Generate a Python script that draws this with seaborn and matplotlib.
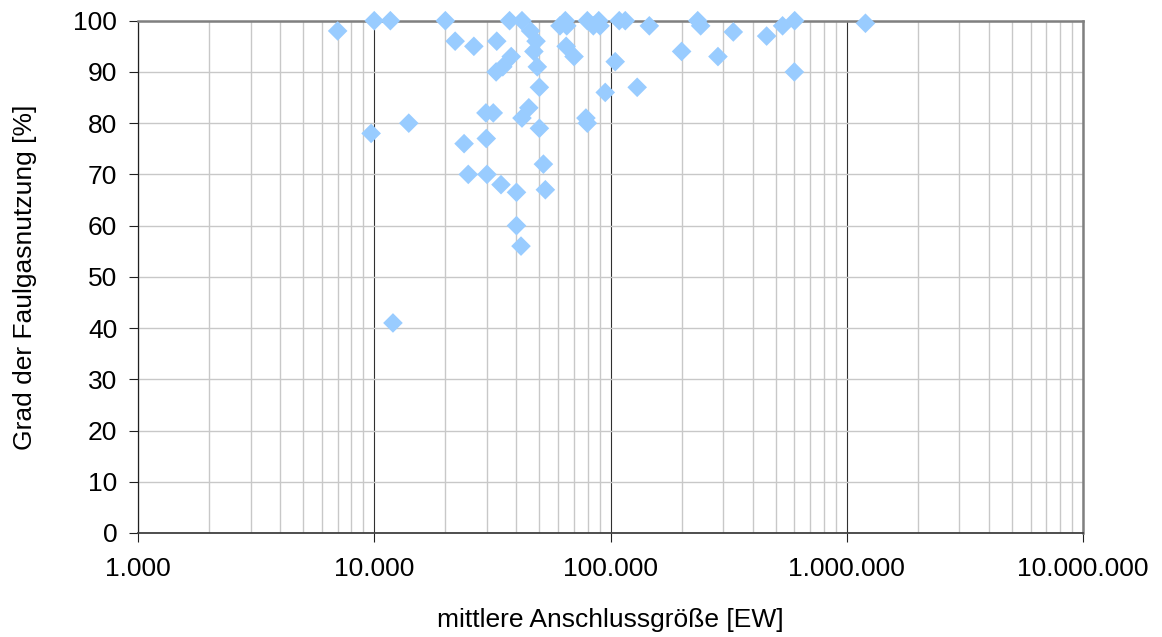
import matplotlib
matplotlib.use("Agg")
import matplotlib.pyplot as plt
from matplotlib.ticker import FixedLocator, FuncFormatter, LogLocator, NullFormatter
import pandas as pd
import seaborn as sns

# Mittlere Anschlussgröße der Kläranlagen [EW]
anschlussgroesse_ew = [
    7000, 10000, 11700, 20000, 22000, 26400, 33000, 37400, 32800, 35000,
    14000, 9700, 29700, 31900, 42200, 45900, 48400, 38000, 47400, 49000,
    50000, 45100, 42200, 50000, 61100, 64400, 65300, 64900, 70100, 79800,
    84600, 89200, 90300, 95000, 78700, 79800, 104700, 108900, 115500, 146000,
    129700, 200000, 234000, 240800, 285000, 331000, 458000, 535000, 602000, 600000,
    1200000, 24000, 29800, 25000, 30000, 34400, 40000, 40000, 41800, 12000,
    52000, 53000,
]

# Grad der Faulgasnutzung [%]
faulgasnutzung_pct = [
    98, 100, 100, 100, 96, 95, 96, 100, 90, 91,
    80, 78, 82, 82, 100, 98, 96, 93, 94, 91,
    87, 83, 81, 79, 99, 100, 99, 95, 93, 100,
    99, 100, 99, 86, 81, 80, 92, 100, 100, 99,
    87, 94, 100, 99, 93, 97.8, 97, 99, 100, 90,
    99.5, 76, 77, 70, 70, 68, 66.5, 60, 56, 41,
    72, 67,
]

x_ticks = [1e3, 1e4, 1e5, 1e6, 1e7]
y_ticks = list(range(0, 101, 10))

sns.set_style("white")
plt.rcParams["font.family"] = ["Liberation Sans", "DejaVu Sans"]

W, H = 1162, 637
fig = plt.figure(figsize=(W / 100, H / 100), dpi=100)
ax = fig.add_axes([138 / W, 1 - 533 / H, 945 / W, 512.3 / H])

df = pd.DataFrame({"ew": anschlussgroesse_ew, "pct": faulgasnutzung_pct})
sns.scatterplot(
    data=df, x="ew", y="pct", ax=ax, marker="D", s=100,
    color="#99CCFF", edgecolor="none", linewidth=0,
    zorder=3, clip_on=False, legend=False,
)

ax.set_xscale("log")
ax.set_xlim(1e3, 1e7)
ax.set_ylim(0, 100)

ax.xaxis.set_major_locator(FixedLocator(x_ticks))
ax.xaxis.set_minor_locator(LogLocator(base=10, subs=range(2, 10)))
ax.xaxis.set_major_formatter(FuncFormatter(lambda v, _: f"{int(round(v)):,}".replace(",", ".")))
ax.xaxis.set_minor_formatter(NullFormatter())
ax.yaxis.set_major_locator(FixedLocator(y_ticks))

ax.set_axisbelow(True)
ax.grid(which="minor", axis="x", color="#C8C8C8", linewidth=1.0)
ax.grid(which="major", axis="x", color="#303030", linewidth=0.8)
ax.grid(which="major", axis="y", color="#C8C8C8", linewidth=1.0)

for side in ("top", "right"):
    ax.spines[side].set_color("#808080")
    ax.spines[side].set_linewidth(1.8)
ax.spines["left"].set_color("#202020")
ax.spines["left"].set_linewidth(0.9)
ax.spines["bottom"].set_color("#404040")
ax.spines["bottom"].set_linewidth(1.3)

ax.tick_params(axis="x", which="major", bottom=True, length=6.5, width=0.8,
               color="#202020", pad=11, labelsize=19, labelcolor="black")
ax.tick_params(axis="x", which="minor", bottom=True, length=0)
ax.tick_params(axis="y", which="major", left=True, length=6.5, width=0.8,
               color="#202020", pad=8.5, labelsize=19, labelcolor="black")

ax.set_xlabel("mittlere Anschlussgröße [EW]", fontsize=19, color="black")
ax.set_ylabel("Grad der Faulgasnutzung [%]", fontsize=19, color="black")
ax.xaxis.label.set_va("center")
ax.yaxis.label.set_va("center")
ax.xaxis.set_label_coords(0.5, (533 - 620) / 512.3)
ax.yaxis.set_label_coords((25 - 138) / 945, 0.5)

fig.savefig("out.png", dpi=100, facecolor="white")
